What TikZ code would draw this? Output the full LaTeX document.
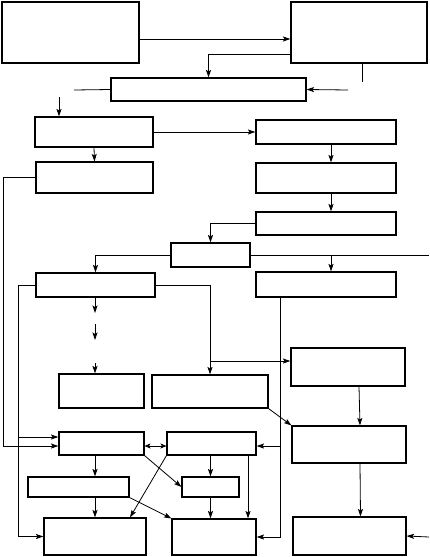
\documentclass[tikz,border=0pt]{standalone}
\usepackage{tikz}
\usetikzlibrary{arrows.meta,calc}

\tikzset{
  blk/.style={draw,line width=1.1pt,inner sep=0pt},
  arr/.style={-{Stealth[length=7.5pt,width=5pt,inset=1.5pt]}},
  darr/.style={{Stealth[length=6pt,width=5pt,inset=1.5pt]}-{Stealth[length=6pt,width=5pt,inset=1.5pt]}}
}

\begin{document}
\begin{tikzpicture}[x=1pt,y=-1pt,line width=0.8pt]
  \useasboundingbox (0,0) rectangle (429,557);
  % boxes, top to bottom
  \node[blk,minimum width=137pt,minimum height=61pt] (src) at (70.5,32.5) {};
  \node[blk,minimum width=136pt,minimum height=61pt] (ctl) at (359,32.5) {};
  \node[blk,minimum width=195pt,minimum height=23pt] (bar) at (208.5,89.5) {};
  \node[blk,minimum width=118pt,minimum height=30pt] (l1) at (94,132) {};
  \node[blk,minimum width=117pt,minimum height=31pt] (l2) at (94.5,177.5) {};
  \node[blk,minimum width=140pt,minimum height=24pt] (r1) at (326,132) {};
  \node[blk,minimum width=140pt,minimum height=30pt] (r2) at (326,178) {};
  \node[blk,minimum width=140pt,minimum height=23pt] (r3) at (326,223.5) {};
  \node[blk,minimum width=79pt,minimum height=24pt] (hub) at (210.5,255) {};
  \node[blk,minimum width=119pt,minimum height=24pt] (l3) at (95.5,285) {};
  \node[blk,minimum width=140pt,minimum height=25pt] (r4) at (326,284.5) {};
  \node[blk,minimum width=85pt,minimum height=34pt] (m1) at (101.5,391) {};
  \node[blk,minimum width=116pt,minimum height=33pt] (m2) at (210,391.5) {};
  \node[blk,minimum width=114pt,minimum height=38pt] (q1) at (348,367) {};
  \node[blk,minimum width=85pt,minimum height=23pt] (p1) at (101.5,443.5) {};
  \node[blk,minimum width=89pt,minimum height=23pt] (p2) at (211.5,443.5) {};
  \node[blk,minimum width=114pt,minimum height=37pt] (q2) at (349,444.5) {};
  \node[blk,minimum width=101pt,minimum height=20pt] (s1) at (78.5,487) {};
  \node[blk,minimum width=57pt,minimum height=20pt] (s2) at (210.5,487) {};
  \node[blk,minimum width=102pt,minimum height=37pt] (o1) at (95,536.5) {};
  \node[blk,minimum width=84pt,minimum height=36pt] (o2) at (214,537) {};
  \node[blk,minimum width=113pt,minimum height=38pt] (q3) at (349.5,536) {};

  % free ends
  \coordinate (ctlstub) at (362,82);
  \coordinate (barin) at (348,90);
  \coordinate (barout) at (74,90);
  \coordinate (l1in) at (59,97);
  \coordinate (rim) at (429,255);
  \coordinate (q3in) at (429,537);

  % top part
  \draw[arr] (src.east |- 0,39) -- (ctl.west |- 0,39);
  \draw[arr] (ctl.west |- 0,54) -| (bar.north);
  \draw (ctl.south -| ctlstub) -- (ctlstub);
  \draw[arr] (barin) -- (bar.east);
  \draw (bar.west) -- (barout);
  \draw[arr] (l1in) -- (l1.north -| l1in);
  \draw[arr] (l1.south) -- (l2.north);
  \draw[arr] (l1.east) -- (r1.west);
  \draw[arr] ([xshift=5pt]r1.south) -- ([xshift=5pt]r2.north);
  \draw[arr] ([xshift=5pt]r2.south) -- ([xshift=5pt]r3.north);
  \draw[arr] (r3.west) -| (hub.north);
  \draw[arr] (hub.west) -| (l3.north);
  \draw (hub.east) -- (rim);
  \draw[arr] ([xshift=5pt]r4.north |- hub.east) -- ([xshift=5pt]r4.north);

  % middle part
  \draw[arr] (l3.south -| 95,0) -- (95,313);
  \draw[arr] (95,324) -- (95,340);
  \draw[arr] (95,363) -- (m1.north -| 95,0);
  \draw[arr] (l3.east) -| (m2.north);
  \draw[arr] (m2.north |- 0,361) -- (q1.west |- 0,361);
  \draw[arr] (m2.south east) -- (q2.north west);
  \draw[arr] ([xshift=11pt]q1.south) -- ([xshift=11pt]q2.north);
  \draw[arr] ([xshift=11pt]q2.south) -- ([xshift=11pt]q3.north);
  \draw[arr] (q3in) -- (q3.east);

  % feedback lines
  \draw[arr] (r4.south -| 280,0) |- (o2.east);
  \draw[arr] (280,446) -- (p2.east |- 0,446);
  \draw[arr] (l2.west) -- (3,177.5) |- (p1.west |- 0,446);
  \draw[arr] (l3.west) -- (18,285) |- (o1.west);
  \draw[arr] (18,437) -- (p1.west |- 0,437);

  % bottom part
  \draw[darr] (p1.east |- 0,446) -- (p2.west |- 0,446);
  \draw[arr] (p1.south -| o1) -- (s1.north -| o1);
  \draw[arr] (s1.south -| o1) -- (o1.north);
  \draw[arr] (p1.south east) -- (s2.west);
  \draw[arr] (p2.south west) -- (o1.north -| 130,0);
  \draw[arr] (s1.south east) -- (o2.north west);
  \draw[arr] (p2.south -| s2) -- (s2.north);
  \draw[arr] (s2.south) -- (o2.north -| s2);
  \draw[arr] (p2.south -| 248,0) -- (o2.north -| 248,0);
\end{tikzpicture}
\end{document}
